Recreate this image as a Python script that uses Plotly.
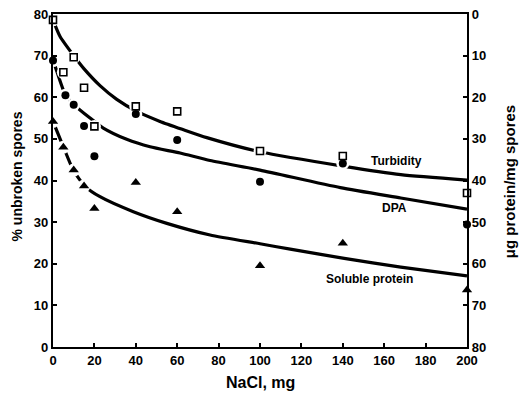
import plotly.graph_objects as go

# ---- data ----
nacl_turb = [0, 5, 10, 15, 20, 40, 60, 100, 140, 200]
turbidity = [78.6, 66.0, 69.6, 62.3, 53.0, 57.8, 56.6, 47.1, 45.9, 37.0]

nacl_dpa = [0, 6, 10, 15, 20, 40, 60, 100, 140, 200]
dpa = [68.8, 60.5, 58.2, 53.1, 45.8, 56.0, 49.7, 39.7, 44.1, 29.4]

nacl_prot = [0, 5, 10, 15, 20, 40, 60, 100, 140, 200]
soluble_protein = [54.2, 48.0, 42.5, 38.7, 33.3, 39.5, 32.5, 19.5, 24.9, 13.7]

# fitted curves
turb_curve_x = [0, 3.4, 10.6, 14.7, 22.7, 30.8, 40.5, 51.7, 63, 74.3, 100, 140.7, 168, 200]
turb_curve_y = [78.6, 74.6, 69.6, 67.0, 62.8, 59.5, 56.6, 54.2, 52.2, 50.3, 46.9, 43.4, 41.4, 40.1]

dpa_curve_x = [0, 2, 5.8, 10.6, 17.9, 24.3, 35.6, 46.9, 61.4, 75.9, 100, 138.8, 168, 200]
dpa_curve_y = [69.0, 66.0, 60.8, 58.0, 55.0, 52.6, 49.9, 48.1, 46.6, 44.8, 42.5, 38.3, 35.8, 33.1]

prot_curve_x = [0, 5, 9.8, 15.5, 22.7, 38.8, 55, 75.9, 100, 114.6, 140.7, 168, 200]
prot_curve_y = [54.2, 48.1, 42.5, 38.6, 36.1, 32.5, 29.7, 26.9, 24.8, 23.5, 21.3, 19.2, 17.1]

x_ticks = [0, 20, 40, 60, 80, 100, 120, 140, 160, 180, 200]
y_ticks = [0, 10, 20, 30, 40, 50, 60, 70, 80]

labels = ["Turbidity", "DPA", "Soluble protein"]
label_x = [166, 165, 153]
label_y = [44.8, 33.3, 16.3]

x_title = "NaCl, mg"
y_title = "% unbroken spores"
y2_title = "μg protein/mg spores"

FONT = "Liberation Sans"
BLACK = "#000000"
fig = go.Figure()

line_style = dict(color=BLACK, width=3.2, shape="spline", smoothing=0.6)
for cx, cy in [(turb_curve_x, turb_curve_y), (dpa_curve_x, dpa_curve_y), (prot_curve_x, prot_curve_y)]:
    fig.add_trace(go.Scatter(x=cx, y=cy, mode="lines", line=line_style,
                             hoverinfo="skip", showlegend=False))

# white halos to break lines around markers
for xs, ys in [(nacl_turb, turbidity), (nacl_dpa, dpa), (nacl_prot, soluble_protein)]:
    fig.add_trace(go.Scatter(x=xs, y=ys, mode="markers",
                             marker=dict(color="white", size=13, line=dict(width=0)),
                             hoverinfo="skip", showlegend=False, cliponaxis=False))

fig.add_trace(go.Scatter(x=nacl_turb, y=turbidity, mode="markers", name="Turbidity",
                         marker=dict(symbol="square", color="white", size=7,
                                     line=dict(color=BLACK, width=1.6)),
                         showlegend=False, cliponaxis=False))
fig.add_trace(go.Scatter(x=nacl_dpa, y=dpa, mode="markers", name="DPA",
                         marker=dict(symbol="circle", color=BLACK, size=8),
                         showlegend=False, cliponaxis=False))
fig.add_trace(go.Scatter(x=nacl_prot, y=soluble_protein, mode="markers", name="Soluble protein",
                         marker=dict(symbol="triangle-up", color=BLACK, size=9),
                         showlegend=False, cliponaxis=False))

# dummy trace on right axis
fig.add_trace(go.Scatter(x=[0], y=[0], yaxis="y2", mode="markers",
                         marker=dict(opacity=0), hoverinfo="skip", showlegend=False))

for t, lx, ly in zip(labels, label_x, label_y):
    fig.add_annotation(x=lx, y=ly, text=t, showarrow=False,
                       font=dict(family=FONT, size=12, color=BLACK, weight="bold"))

# axis titles as annotations for precise placement
fig.add_annotation(xref="paper", yref="paper", x=0.5, y=0, yanchor="middle", xanchor="center",
                   yshift=-35, text=x_title, showarrow=False,
                   font=dict(family=FONT, size=16, color=BLACK, weight="bold"))
fig.add_annotation(xref="paper", yref="paper", x=0, y=0.512, xanchor="center", yanchor="middle",
                   xshift=-36, textangle=-90, text=y_title, showarrow=False,
                   font=dict(family=FONT, size=14, color=BLACK, weight="bold"))
fig.add_annotation(xref="paper", yref="paper", x=1, y=0.495, xanchor="center", yanchor="middle",
                   xshift=42, textangle=-90, text=y2_title, showarrow=False,
                   font=dict(family=FONT, size=15, color=BLACK, weight="bold"))

tickfont = dict(family=FONT, size=13, color=BLACK, weight="bold")
fig.update_layout(
    width=520, height=394,
    margin=dict(l=53, r=53, t=14, b=47, autoexpand=False),
    plot_bgcolor="white", paper_bgcolor="white",
    hovermode=False,
    xaxis=dict(range=[0, 200], tickvals=x_ticks, ticks="inside", ticklen=4, tickwidth=1.5,
               tickcolor=BLACK, showline=True, linecolor=BLACK, linewidth=2,
               mirror=True, showgrid=False, zeroline=False, tickfont=tickfont, automargin=False,
               ticklabeloverflow="allow"),
    yaxis=dict(range=[0, 80], tickvals=y_ticks, ticks="inside", ticklen=4, tickwidth=1.5,
               tickcolor=BLACK, showline=True, linecolor=BLACK, linewidth=2.2, automargin=False,
               showgrid=False, zeroline=False, tickfont=tickfont, ticklabeloverflow="allow"),
    yaxis2=dict(range=[80, 0], tickvals=y_ticks, ticks="inside", ticklen=4, tickwidth=1.5,
                tickcolor=BLACK, showline=True, linecolor=BLACK, linewidth=2.2,
                overlaying="y", side="right", anchor="x", automargin=False,
                showgrid=False, zeroline=False, tickfont=tickfont, ticklabeloverflow="allow"),
)

fig.write_html("out.html", config={"displayModeBar": False},
               post_script="document.body.style.margin='0';document.body.style.overflow='hidden';")
